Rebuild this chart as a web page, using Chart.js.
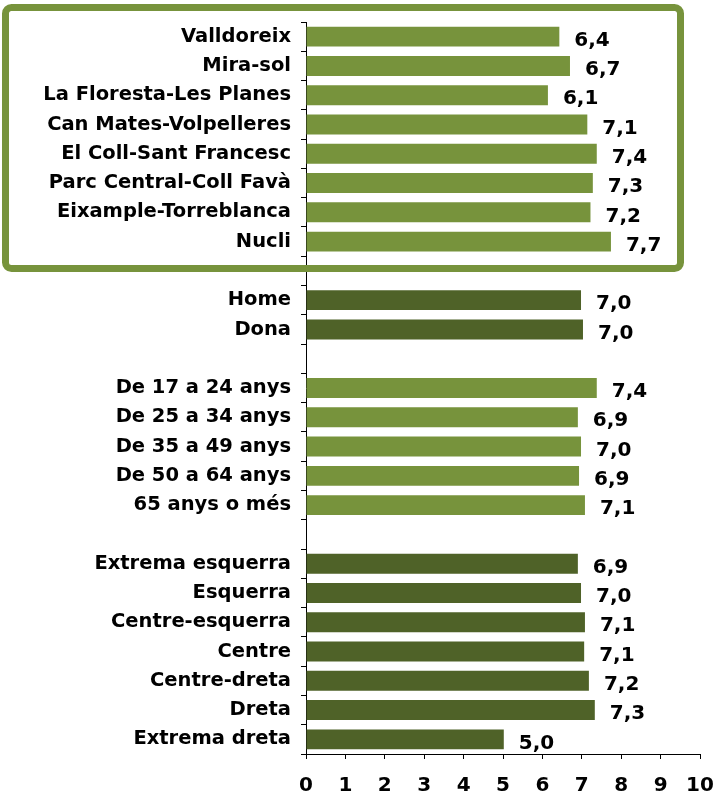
<!DOCTYPE html>
<html>
<head>
<meta charset="utf-8">
<script src="https://cdn.jsdelivr.net/npm/chart.js@4.4.1/dist/chart.umd.min.js"></script>
<style>
  html, body { margin: 0; padding: 0; background: #ffffff; }
  #wrap { position: relative; width: 717px; height: 793px; }
</style>
</head>
<body>
<div id="wrap"><canvas id="c" width="717" height="793"></canvas></div>
<script>
// Categories (empty strings are spacer rows between groups)
const categories = [
  "Valldoreix", "Mira-sol", "La Floresta-Les Planes", "Can Mates-Volpelleres",
  "El Coll-Sant Francesc", "Parc Central-Coll Favà", "Eixample-Torreblanca", "Nucli",
  "",
  "Home", "Dona",
  "",
  "De 17 a 24 anys", "De 25 a 34 anys", "De 35 a 49 anys", "De 50 a 64 anys", "65 anys o més",
  "",
  "Extrema esquerra", "Esquerra", "Centre-esquerra", "Centre", "Centre-dreta", "Dreta", "Extrema dreta"
];
// Bar values (as drawn)
const values = [
  6.43, 6.70, 6.14, 7.14, 7.38, 7.28, 7.22, 7.74,
  null,
  6.98, 7.03,
  null,
  7.38, 6.90, 6.98, 6.93, 7.08,
  null,
  6.90, 6.98, 7.08, 7.06, 7.18, 7.33, 5.02
];
// Value labels shown next to bars
const valueLabels = [
  "6,4", "6,7", "6,1", "7,1", "7,4", "7,3", "7,2", "7,7",
  "",
  "7,0", "7,0",
  "",
  "7,4", "6,9", "7,0", "6,9", "7,1",
  "",
  "6,9", "7,0", "7,1", "7,1", "7,2", "7,3", "5,0"
];
// Group of each row: 'light' or 'dark'
const groups = [
  "light","light","light","light","light","light","light","light",
  "",
  "dark","dark",
  "",
  "light","light","light","light","light",
  "",
  "dark","dark","dark","dark","dark","dark","dark"
];
const xTicks = [0,1,2,3,4,5,6,7,8,9,10];

const LIGHT = "#77933C";
const DARK = "#4F6228";
const FONT = "'DejaVu Sans', Verdana, sans-serif";

const valueLabelPlugin = {
  id: "valueLabels",
  afterDatasetsDraw(chart) {
    const ctx = chart.ctx;
    const meta = chart.getDatasetMeta(0);
    ctx.save();
    ctx.font = "bold 20px " + FONT;
    ctx.fillStyle = "#000000";
    ctx.textAlign = "left";
    ctx.textBaseline = "middle";
    meta.data.forEach((bar, i) => {
      if (values[i] === null) return;
      ctx.fillText(valueLabels[i], bar.x + 15, bar.y + 4);
    });
    ctx.restore();
  }
};

const boxPlugin = {
  id: "groupBox",
  afterDraw(chart) {
    const ctx = chart.ctx;
    ctx.save();
    ctx.strokeStyle = LIGHT;
    ctx.lineWidth = 7;
    ctx.beginPath();
    ctx.roundRect(5.5, 7.5, 675, 261, 6);
    ctx.stroke();
    ctx.restore();
  }
};

new Chart(document.getElementById("c"), {
  type: "bar",
  data: {
    labels: categories,
    datasets: [{
      data: values,
      backgroundColor: groups.map(g => g === "dark" ? DARK : LIGHT),
      borderWidth: 0,
      barPercentage: 0.68,
      categoryPercentage: 1.0
    }]
  },
  options: {
    indexAxis: "y",
    responsive: false,
    animation: false,
    devicePixelRatio: 1,
    layout: { padding: { top: 22, right: 17, bottom: 0, left: 0 } },
    plugins: {
      legend: { display: false },
      tooltip: { enabled: false },
      title: { display: false }
    },
    scales: {
      y: {
        type: "category",
        offset: true,
        grid: { display: true, offset: true, drawOnChartArea: false, drawTicks: true, tickLength: 5, color: "#000000", lineWidth: 1 },
        border: { display: true, color: "#000000", width: 1 },
        ticks: { color: "#000000", padding: 10, autoSkip: false, font: { family: FONT, size: 19.5, weight: "bold" } },
        afterFit(scale) { scale.width = 306; scale.paddingTop = 0; scale.paddingBottom = 0; }
      },
      x: {
        type: "linear",
        min: 0, max: 10,
        afterBuildTicks(scale) { scale.ticks = xTicks.map(v => ({ value: v })); },
        grid: { display: true, drawOnChartArea: false, drawTicks: true, tickLength: 5, color: "#000000", lineWidth: 1 },
        border: { display: true, color: "#000000", width: 1 },
        ticks: { color: "#000000", padding: 15, font: { family: FONT, size: 20, weight: "bold" }, maxRotation: 0 },
        afterFit(scale) { scale.height = 39; scale.paddingLeft = 0; scale.paddingRight = 0; }
      }
    }
  },
  plugins: [valueLabelPlugin, boxPlugin]
});
</script>
</body>
</html>
